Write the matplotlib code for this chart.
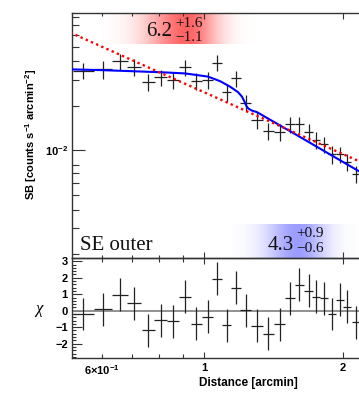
import numpy as np
import matplotlib
matplotlib.use("Agg")
import matplotlib.pyplot as plt
from matplotlib.ticker import FixedLocator, FixedFormatter, NullFormatter

plt.rcParams['mathtext.fontset'] = 'custom'
plt.rcParams['mathtext.rm'] = 'Liberation Sans:bold'
plt.rcParams['mathtext.bf'] = 'Liberation Sans:bold'
plt.rcParams['mathtext.it'] = 'Liberation Sans:bold'
plt.rcParams['mathtext.default'] = 'bf'

# ---------------- data ----------------
distance = [0.548, 0.605, 0.658, 0.707, 0.758, 0.806, 0.858, 0.910, 0.963, 1.018,
            1.069, 1.120, 1.173, 1.231, 1.304, 1.379, 1.460, 1.535, 1.610, 1.685,
            1.750, 1.819, 1.896, 1.970, 2.043, 2.133]
distance_err = [0.029, 0.028, 0.026, 0.025, 0.025, 0.025, 0.026, 0.026, 0.027, 0.027,
                0.026, 0.026, 0.027, 0.033, 0.037, 0.039, 0.039, 0.037, 0.037, 0.035,
                0.033, 0.036, 0.038, 0.037, 0.041, 0.045]
sb = [0.0346, 0.0352, 0.0400, 0.0367, 0.0290, 0.0311, 0.0298, 0.0365, 0.0294, 0.0297,
      0.0391, 0.0246, 0.0306, 0.0208, 0.0161, 0.0135, 0.0133, 0.0150, 0.0150, 0.0133,
      0.0118, 0.0110, 0.0094, 0.0094, 0.0084, 0.0069]
sb_err = [0.0045, 0.0047, 0.0050, 0.0048, 0.0040, 0.0040, 0.0039, 0.0045, 0.0038, 0.0039,
          0.0048, 0.0033, 0.0040, 0.0027, 0.0021, 0.0018, 0.0018, 0.0019, 0.0019, 0.0017,
          0.0015, 0.0014, 0.0013, 0.0012, 0.0011, 0.0009]
chi = [-0.20, 0.10, 0.98, 0.45, -1.18, -0.59, -0.65, 0.85, -0.79, -0.37,
       1.93, -0.87, 1.38, 0.04, -0.91, -1.40, -0.81, 0.77, 1.59, 1.22,
       0.84, 0.77, -0.20, 0.67, 0.23, -0.69]
chi_err = [1.0] * len(chi)

# broken power-law model curve (blue), nodes
model_bpl_x = [0.5177, 0.5955, 0.6917, 0.8233, 0.9097, 1.0201, 1.0830, 1.1384, 1.1846,
               1.2085, 1.2237, 1.2359, 1.2483, 1.2705, 1.3024, 1.6000, 2.1652, 2.3]
model_bpl_y = [0.03520, 0.03482, 0.03428, 0.03359, 0.03307, 0.03148, 0.02935, 0.02694,
               0.02474, 0.02307, 0.02135, 0.01990, 0.01914, 0.01856, 0.01813, 0.01253,
               0.007249, 0.006501]
# single power-law model (red dotted)
model_pl_x = [0.5, 2.3]
model_pl_y = [0.06462, 0.007788]

W, H = 359, 397
fig = plt.figure(figsize=(W / 100, H / 100), dpi=100)

def fx(px):
    return px / W

def fy(py):
    return 1 - py / H

# ---------- background gradient boxes ----------
bg = fig.add_axes([0, 0, 1, 1], zorder=0)
bg.set_xlim(0, W)
bg.set_ylim(H, 0)
bg.axis('off')

def grad_box(x0, x1, y0, y1, peak, sl, sr, rgb, amax):
    xs = np.linspace(x0, x1, 300)
    s = np.where(xs < peak, sl, sr)
    a = amax * np.exp(-((xs - peak) / s) ** 2)
    img = np.zeros((2, len(xs), 4))
    img[..., 0] = rgb[0]
    img[..., 1] = rgb[1]
    img[..., 2] = rgb[2]
    img[..., 3] = a[None, :]
    bg.imshow(img, extent=(x0, x1, y1, y0), aspect='auto', interpolation='bilinear')

grad_box(100, 255, 13.3, 44, 187, 40, 30, (1.0, 0.15, 0.15), 0.72)
grad_box(232, 359, 224, 258, 298, 32, 28, (0.3, 0.3, 1.0), 0.55)
bg.set_xlim(0, W)
bg.set_ylim(H, 0)

frame_col = '#333333'
err_col = '#222222'
XLIM = (0.5177, 2.3)

# ---------- top panel ----------
ax = fig.add_axes([fx(72), fy(257.8), (371 - 72) / W, (257.8 - 13.3) / H], zorder=1)
ax.patch.set_alpha(0)
ax.set_xscale('log')
ax.set_yscale('log')
ax.set_xlim(*XLIM)
ax.set_ylim(1.89e-3, 0.0841)
ax.errorbar(distance, sb, xerr=distance_err, yerr=sb_err, fmt='none',
            ecolor=err_col, elinewidth=0.9, capsize=0, zorder=3)
ax.plot(model_bpl_x, model_bpl_y, color='#0000ff', lw=1.5, zorder=4)
ax.plot(model_pl_x, model_pl_y, color='#ff0000', lw=1.7, ls=(0, (1.0, 1.4)), zorder=5)

ax.yaxis.set_major_locator(FixedLocator([0.01]))
ax.yaxis.set_major_formatter(FixedFormatter([r'$10^{-2}$']))
ax.yaxis.set_minor_locator(FixedLocator([0.002, 0.003, 0.004, 0.005, 0.006, 0.007, 0.008,
                                         0.02, 0.03, 0.04, 0.05, 0.06, 0.07, 0.08]))
ax.yaxis.set_minor_formatter(NullFormatter())
ax.xaxis.set_major_locator(FixedLocator([1, 2]))
ax.xaxis.set_minor_locator(FixedLocator([0.6, 0.7, 0.8, 0.9]))
ax.xaxis.set_major_formatter(NullFormatter())
ax.xaxis.set_minor_formatter(NullFormatter())
ax.tick_params(axis='y', which='major', direction='in', length=9.4, width=0.8,
               color=frame_col, labelsize=8, pad=3, left=True, right=False)
ax.tick_params(axis='y', which='minor', direction='in', length=5, width=0.8,
               color=frame_col, left=True, right=False)
ax.tick_params(axis='x', which='major', direction='in', length=4, width=0.8,
               color=frame_col, top=True, bottom=True, labelbottom=False)
ax.tick_params(axis='x', which='minor', direction='in', length=2.5, width=0.8,
               color=frame_col, top=True, bottom=True, labelbottom=False)
for sp in ax.spines.values():
    sp.set_color(frame_col)
    sp.set_linewidth(1.0)
ax.spines['right'].set_visible(False)

# ---------- chi panel ----------
ax2 = fig.add_axes([fx(72), fy(357.7), (371 - 72) / W, (357.7 - 257.8) / H], zorder=1)
ax2.patch.set_alpha(0)
ax2.set_xscale('log')
ax2.set_xlim(*XLIM)
ax2.set_ylim(-2.85, 3.21)
ax2.axhline(0, color='#888888', lw=1.3, zorder=2)
ax2.errorbar(distance, chi, xerr=distance_err, yerr=chi_err, fmt='none',
             ecolor=err_col, elinewidth=0.9, capsize=0, zorder=3)
ax2.yaxis.set_major_locator(FixedLocator([-2, -1, 0, 1, 2, 3]))
ax2.yaxis.set_major_formatter(FixedFormatter(['\u22122', '\u22121', '0', '1', '2', '3']))
ax2.yaxis.set_minor_locator(FixedLocator(np.round(np.arange(-2.8, 3.21, 0.2), 2)))
ax2.xaxis.set_major_locator(FixedLocator([1, 2]))
ax2.xaxis.set_major_formatter(FixedFormatter(['1', '2']))
ax2.xaxis.set_minor_locator(FixedLocator([0.6, 0.7, 0.8, 0.9]))
ax2.xaxis.set_minor_formatter(FixedFormatter([r'$6{\times}10^{-1}$', '', '', '']))
ax2.tick_params(axis='y', which='major', direction='in', length=7, width=0.8,
                color=frame_col, pad=3, left=True, right=False)
ax2.tick_params(axis='y', which='minor', direction='in', length=3, width=0.8,
                color=frame_col, left=True, right=False)
ax2.tick_params(axis='x', which='major', direction='in', length=4.3, width=0.8,
                color=frame_col, top=True, bottom=True, pad=4)
ax2.tick_params(axis='x', which='minor', direction='in', length=2.9, width=0.8,
                color=frame_col, top=True, bottom=True, pad=4)
for lab in ax2.get_yticklabels() + ax2.get_xticklabels() + ax2.get_xticklabels(minor=True) \
        + ax.get_yticklabels():
    lab.set_fontfamily('Liberation Sans')
    lab.set_fontweight('bold')
    lab.set_fontsize(8)
for sp in ax2.spines.values():
    sp.set_color(frame_col)
    sp.set_linewidth(1.0)
ax2.spines['right'].set_visible(False)

# ---------- labels and annotations ----------
fig.text(fx(298), fy(386), 'Distance [arcmin]', ha='right', va='baseline',
         fontsize=8.5, fontweight='bold', family='Liberation Sans')
fig.text(fx(31), fy(134), r'SB [counts s$^{-1}$ arcmin$^{-2}$]', rotation=90,
         ha='center', va='center', fontsize=8, fontweight='bold', family='Liberation Sans')
fig.text(fx(39), fy(309), '\u03c7', ha='center', va='center', fontsize=12,
         family='Liberation Serif', style='italic')

serif = 'Liberation Serif'
fig.text(fx(146), fy(36), '6.2', ha='left', va='baseline', fontsize=15, family=serif,
         color='#111111', zorder=10)
fig.text(fx(175.5), fy(27.3), '+1.6', ha='left', va='baseline', fontsize=11,
         family=serif, color='#111111', zorder=10)
fig.text(fx(175.5), fy(40.7), '\u22121.1', ha='left', va='baseline', fontsize=11,
         family=serif, color='#111111', zorder=10)

fig.text(fx(268), fy(250.3), '4.3', ha='left', va='baseline', fontsize=15, family=serif,
         color='#111111', zorder=10)
fig.text(fx(296.5), fy(237), '+0.9', ha='left', va='baseline', fontsize=11,
         family=serif, color='#111111', zorder=10)
fig.text(fx(296.5), fy(252), '\u22120.6', ha='left', va='baseline', fontsize=11,
         family=serif, color='#111111', zorder=10)

fig.text(fx(80), fy(250), 'SE outer', ha='left', va='baseline', fontsize=15,
         family=serif, color='#111111', zorder=10)

fig.savefig('out.png', dpi=100)
